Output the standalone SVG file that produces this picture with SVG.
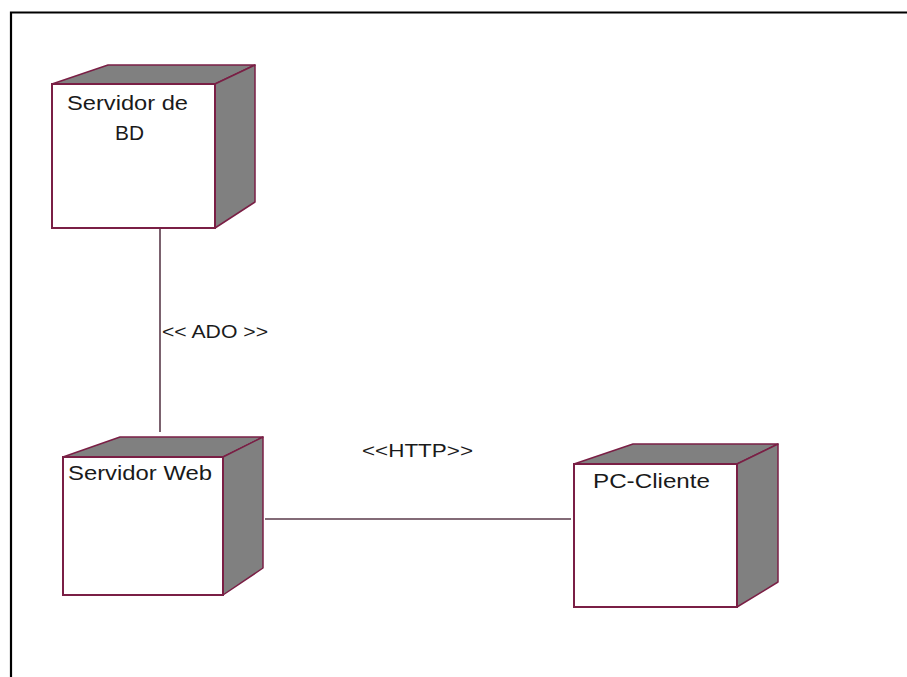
<svg xmlns="http://www.w3.org/2000/svg" width="907" height="677" viewBox="0 0 907 677">
<style>
.face{fill:#ffffff;stroke:#7a1f45;stroke-width:2}
.shade{fill:#808080;stroke:#7a1f45;stroke-width:1.5;stroke-linejoin:round}
.lbl{font-family:"Liberation Sans",Arial,sans-serif;font-size:21px;fill:#1a1a1a}
.cl{font-family:"Liberation Sans",Arial,sans-serif;font-size:17.5px;fill:#1a1a1a}
.conn{stroke:#5a3a4a;stroke-width:1.6;fill:none}
</style>
<rect width="907" height="677" fill="#ffffff"/>
<path d="M11,677 V12.5 H907" fill="none" stroke="#000" stroke-width="2.2"/>
<g id="connectors">
<line class="conn" x1="160" y1="229" x2="160" y2="432"/>
<line class="conn" x1="265" y1="519" x2="571" y2="519"/>
<text class="cl" x="162" y="338" textLength="106" lengthAdjust="spacingAndGlyphs">&lt;&lt; ADO &gt;&gt;</text>
<text class="cl" x="362" y="457" textLength="111" lengthAdjust="spacingAndGlyphs">&lt;&lt;HTTP&gt;&gt;</text>
</g>
<g id="servidor-bd">
<polygon class="shade" points="52,84 108,65 255,65 215,84"/>
<polygon class="shade" points="215,84 255,65 255,202 215,228"/>
<rect class="face" x="52" y="84" width="163" height="144"/>
<text class="lbl" x="67" y="110" textLength="121" lengthAdjust="spacingAndGlyphs">Servidor de</text>
<text class="lbl" x="115" y="140" textLength="29" lengthAdjust="spacingAndGlyphs">BD</text>
</g>
<g id="servidor-web">
<polygon class="shade" points="63,457 120,437 263,437 223,457"/>
<polygon class="shade" points="223,457 263,437 263,568 223,595"/>
<rect class="face" x="63" y="457" width="160" height="138"/>
<text class="lbl" x="68" y="480" textLength="144" lengthAdjust="spacingAndGlyphs">Servidor Web</text>
</g>
<g id="pc-cliente">
<polygon class="shade" points="574,464 633,444 778,444 737,464"/>
<polygon class="shade" points="737,464 778,444 778,582 737,607"/>
<rect class="face" x="574" y="464" width="163" height="143"/>
<text class="lbl" x="593" y="488" textLength="117" lengthAdjust="spacingAndGlyphs">PC-Cliente</text>
</g>
</svg>
